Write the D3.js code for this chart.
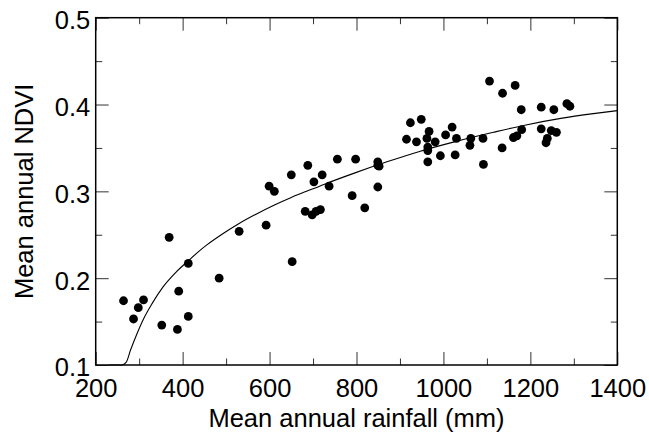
<!DOCTYPE html>
<html>
<head>
<meta charset="utf-8">
<script src="https://cdn.jsdelivr.net/npm/d3@7"></script>
<style>
  html, body { margin: 0; padding: 0; background: #fff; }
  svg { display: block; }
  text { font-family: "Liberation Sans", Arial, sans-serif; fill: #000; }
</style>
</head>
<body>
<svg id="chart" width="649" height="438"></svg>
<script>
// ---- data ----
const rainfall = [264,287,298,310,369,352,388,391,413,413,484,530,592,652,599,611,650,688,702,721,737,682,698,707,717,756,798,790,819,849,852,849,849,915,924,949,938,967,962,981,964,964,964,993,1005,1020,1030,1027,1063,1061,1091,1092,1106,1136,1165,1179,1225,1254,1284,1291,1135,1161,1169,1180,1225,1248,1260,1239,1236];
const ndvi = [0.174,0.153,0.166,0.175,0.247,0.146,0.141,0.185,0.156,0.217,0.200,0.254,0.261,0.219,0.306,0.300,0.319,0.330,0.311,0.319,0.306,0.277,0.273,0.277,0.279,0.337,0.337,0.295,0.281,0.334,0.329,0.330,0.305,0.360,0.379,0.383,0.357,0.369,0.361,0.357,0.351,0.347,0.334,0.341,0.365,0.374,0.361,0.342,0.361,0.353,0.361,0.331,0.427,0.413,0.422,0.394,0.397,0.394,0.401,0.398,0.350,0.362,0.364,0.371,0.372,0.370,0.368,0.361,0.356];

// fitted curve
const fitX = [230,250,260,270,280,295,310,330,355,385,413,440,455,495,530,570,610,650,685,725,795,870,945,1025,1115,1190,1270,1345,1400];
const fitY = [0.100,0.100,0.100,0.103,0.117,0.136,0.153,0.171,0.190,0.207,0.220,0.232,0.238,0.252,0.263,0.274,0.284,0.293,0.300,0.308,0.321,0.334,0.346,0.357,0.368,0.3765,0.384,0.3895,0.393];

const xMajor = [200,400,600,800,1000,1200,1400];
const xMinor = [300,500,700,900,1100,1300];
const yMajor = [0.1,0.2,0.3,0.4,0.5];
const yMinor = [0.15,0.25,0.35,0.45];
const xTitle = "Mean annual rainfall (mm)";
const yTitle = "Mean annual NDVI";

// ---- layout ----
const L = 95.7, R = 617.3, T = 17.7, B = 365;
const svg = d3.select("#chart");
const x = d3.scaleLinear().domain([200,1400]).range([L,R]);
const y = d3.scaleLinear().domain([0.1,0.5]).range([B,T]);

const FS = 25.5;
const majorLen = 13, minorLen = 6.5;

function styleAxis(g){
  g.select(".domain").remove();
  g.selectAll(".tick line").attr("stroke","#333").attr("stroke-width",1);
}
// bottom
svg.append("g").attr("transform",`translate(0,${B})`)
  .call(d3.axisBottom(x).tickValues(xMajor).tickSize(-majorLen).tickFormat(d3.format("d")))
  .call(styleAxis)
  .call(g=>g.selectAll("text").attr("font-size",FS).attr("y",32).attr("dy",null));
svg.append("g").attr("transform",`translate(0,${B})`)
  .call(d3.axisBottom(x).tickValues(xMinor).tickSize(-minorLen).tickFormat(""))
  .call(styleAxis);
// top
svg.append("g").attr("transform",`translate(0,${T})`)
  .call(d3.axisTop(x).tickValues(xMajor).tickSize(-majorLen).tickFormat(""))
  .call(styleAxis);
svg.append("g").attr("transform",`translate(0,${T})`)
  .call(d3.axisTop(x).tickValues(xMinor).tickSize(-minorLen).tickFormat(""))
  .call(styleAxis);
// left
svg.append("g").attr("transform",`translate(${L},0)`)
  .call(d3.axisLeft(y).tickValues(yMajor).tickSize(-majorLen).tickFormat(d3.format(".1f")))
  .call(styleAxis)
  .call(g=>g.selectAll("text").attr("font-size",FS).attr("x",-5.5).attr("dy","0.43em"));
svg.append("g").attr("transform",`translate(${L},0)`)
  .call(d3.axisLeft(y).tickValues(yMinor).tickSize(-minorLen).tickFormat(""))
  .call(styleAxis);
// right
svg.append("g").attr("transform",`translate(${R},0)`)
  .call(d3.axisRight(y).tickValues(yMajor).tickSize(-majorLen).tickFormat(""))
  .call(styleAxis);
svg.append("g").attr("transform",`translate(${R},0)`)
  .call(d3.axisRight(y).tickValues(yMinor).tickSize(-minorLen).tickFormat(""))
  .call(styleAxis);

// frame
svg.append("rect").attr("x",L).attr("y",T).attr("width",R-L).attr("height",B-T)
  .attr("fill","none").attr("stroke","#000").attr("stroke-width",1.5);

// curve
const fit = fitX.map((d,i)=>[d,fitY[i]]);
svg.append("path").datum(fit)
  .attr("fill","none").attr("stroke","#000").attr("stroke-width",1.1)
  .attr("d", d3.line().x(d=>x(d[0])).y(d=>y(d[1])).curve(d3.curveMonotoneX));

// points
svg.append("g").selectAll("circle").data(rainfall.map((d,i)=>[d,ndvi[i]]))
  .join("circle")
  .attr("cx",d=>x(d[0])).attr("cy",d=>y(d[1])).attr("r",4.4).attr("fill","#000");

// titles
svg.append("text").attr("x",(L+R)/2).attr("y",427).attr("text-anchor","middle")
  .attr("font-size",FS).text(xTitle);
svg.append("text").attr("transform",`translate(33,${(T+B)/2}) rotate(-90)`)
  .attr("text-anchor","middle").attr("font-size",FS).text(yTitle);
</script>
</body>
</html>
